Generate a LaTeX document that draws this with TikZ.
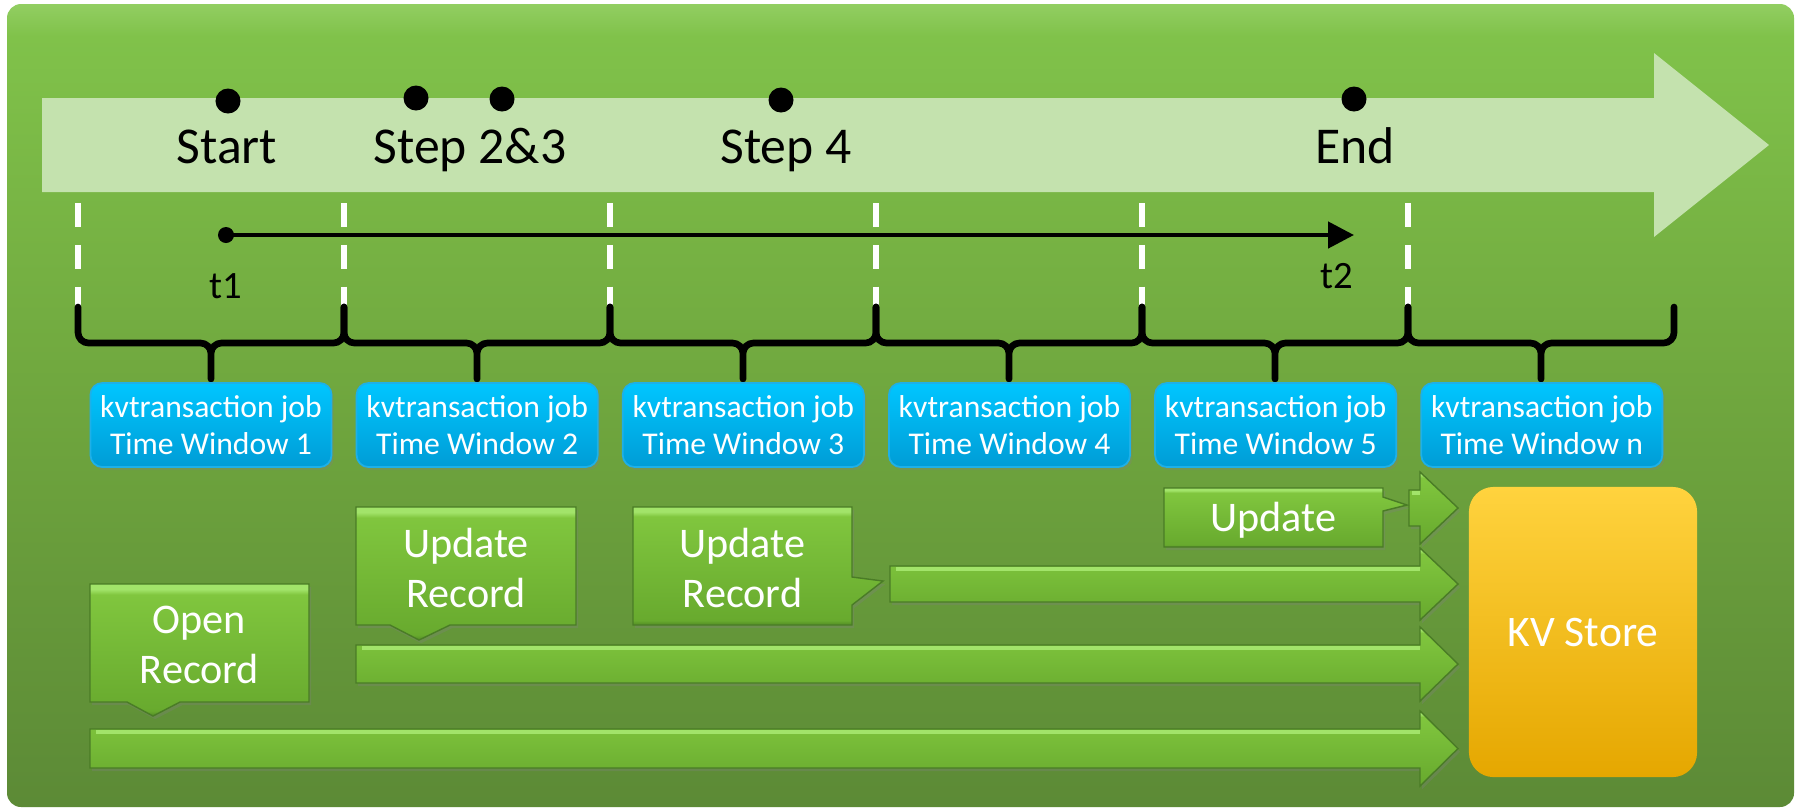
\documentclass[tikz,border=0pt]{standalone}
\usepackage{fontspec}
\setmainfont{Carlito}
\usepackage{tikz}
\usetikzlibrary{arrows.meta,positioning,shadows}

\definecolor{bgtopA}{RGB}{146,206,98}
\definecolor{bgtopB}{RGB}{128,194,74}
\definecolor{bgmid}{RGB}{111,166,62}
\definecolor{bgbot}{RGB}{92,138,54}
\definecolor{timeline}{RGB}{196,226,174}
\definecolor{winTop}{RGB}{0,198,255}
\definecolor{winBot}{RGB}{0,156,214}
\definecolor{winEdge}{RGB}{30,176,232}
\definecolor{grHi}{RGB}{162,228,106}
\definecolor{grTop}{RGB}{128,198,62}
\definecolor{grBot}{RGB}{104,170,46}
\definecolor{grLow}{RGB}{82,140,36}
\definecolor{grEdge}{RGB}{74,124,38}
\definecolor{kvTop}{RGB}{255,211,62}
\definecolor{kvBot}{RGB}{229,167,0}

\pgfdeclareverticalshading{backdrop}{100bp}{color(0bp)=(bgbot); color(25bp)=(bgbot); color(50bp)=(bgmid); color(73bp)=(bgtopB); color(75bp)=(bgtopA); color(100bp)=(bgtopA)}
\pgfdeclareverticalshading{bevel}{100bp}{color(0bp)=(grLow); color(25bp)=(grLow); color(27bp)=(grBot); color(71bp)=(grTop); color(73bp)=(grHi); color(75bp)=(grHi); color(100bp)=(grHi)}

\begin{document}
\begin{tikzpicture}[
    x=0.01cm, y=-0.01cm,
    font=\normalfont,
    >={Triangle[length=7.4pt,width=7.4pt]},
    dot/.style={
		circle,
		fill=black,
		inner sep=0pt,
		minimum size=0.25cm
	},
	stage/.style={
		anchor=base,
		inner sep=0pt,
		font=\fontsize{14.7}{17}\selectfont
	},
	tick/.style={
		anchor=base,
		inner sep=0pt,
		font=\fontsize{11}{13}\selectfont
	},
	sep/.style={
		white,
		line width=1.45pt,
		dash pattern=on 6.8pt off 5.1pt
	},
	brace/.style={
		black,
		line width=1.9pt,
		rounded corners=3pt,
		line cap=round
	},
	window/.style={
		rectangle,
		rounded corners=3.4pt,
		draw=winEdge,
		line width=0.5pt,
		top color=winTop,
		bottom color=winBot,
		text=white,
		align=center,
		inner sep=0pt,
		outer sep=0pt,
		minimum width=2.41cm,
		minimum height=0.84cm,
		font=\fontsize{9}{10.4}\selectfont,
		drop shadow={shadow xshift=0.6pt, shadow yshift=-0.9pt, opacity=0.3}
	},
	callout/.style={
		shade,
		shading=bevel,
		draw=grEdge,
		line width=0.4pt,
		drop shadow={shadow xshift=0.6pt, shadow yshift=-0.9pt, opacity=0.3}
	},
	flow/.style={
		shade,
		shading=bevel,
		draw=grEdge,
		line width=0.4pt,
		drop shadow={shadow xshift=0.6pt, shadow yshift=-0.9pt, opacity=0.3}
	},
	shine/.style={
		grHi,
		line width=1.3pt
	},
	calltext/.style={
		text=white,
		align=center,
		inner sep=0pt,
		font=\fontsize{12}{14.2}\selectfont
	},
	store/.style={
		rectangle,
		rounded corners=7pt,
		top color=kvTop,
		bottom color=kvBot,
		text=white,
		inner sep=0pt,
		outer sep=0pt,
		minimum width=2.28cm,
		minimum height=2.9cm,
		font=\fontsize{12.4}{14.6}\selectfont
	}
  ]

\useasboundingbox (0,0) rectangle (1801,811);
\fill[white] (0,0) rectangle (1801,811);
\path[shade, shading=backdrop, rounded corners=4pt] (7,4) rectangle (1794,807);

% // The time line
\fill[timeline] (42,98) -- (1654,98) -- (1654,53) -- (1769,145) -- (1654,237) -- (1654,192) -- (42,192) -- cycle;

 \node [dot] (start) at (228,101) {};
 \node [dot] (step2) at (416,98) {};
 \node [dot] (step3) at (502,99) {};
 \node [dot] (step4) at (781,100) {};
 \node [dot] (finish) at (1354,99) {};

 \node [stage] (startlbl) at (227,163) {Start};
 \node [stage] (steplbl) at (470,163) {Step 2\&3};
 \node [stage] (step4lbl) at (786,163) {Step 4};
 \node [stage] (finishlbl) at (1355,163) {End};

% // t1 -> t2
 \node [circle, fill=black, inner sep=0pt, minimum size=0.16cm] (t1dot) at (226,235) {};
 \coordinate (t2tip) at (1354,235);
 \draw [->, line width=1.3pt] (t1dot.center) -- (t2tip);
 \node [tick] (t1) at (226,298) {t1};
 \node [tick] (t2) at (1337,288) {t2};

% // window borders
 \draw [sep] (78,203) -- (78,307);
 \draw [sep] (344,203) -- (344,307);
 \draw [sep] (610,203) -- (610,307);
 \draw [sep] (876,203) -- (876,307);
 \draw [sep] (1142,203) -- (1142,307);
 \draw [sep] (1408,203) -- (1408,307);

 \draw [brace] (78,307) -- (78,343) -- (211,343) -- (211,379) (211,379) -- (211,343) -- (344,343) -- (344,307);
 \draw [brace] (344,307) -- (344,343) -- (477,343) -- (477,379) (477,379) -- (477,343) -- (610,343) -- (610,307);
 \draw [brace] (610,307) -- (610,343) -- (743,343) -- (743,379) (743,379) -- (743,343) -- (876,343) -- (876,307);
 \draw [brace] (876,307) -- (876,343) -- (1009,343) -- (1009,379) (1009,379) -- (1009,343) -- (1142,343) -- (1142,307);
 \draw [brace] (1142,307) -- (1142,343) -- (1275,343) -- (1275,379) (1275,379) -- (1275,343) -- (1408,343) -- (1408,307);
 \draw [brace] (1408,307) -- (1408,343) -- (1541,343) -- (1541,379) (1541,379) -- (1541,343) -- (1674,343) -- (1674,307);

% // the jobs
 \node [window] (tw1) at (211,425) {kvtransaction job\\Time Window 1};
 \node [window, right=2.5mm of tw1] (tw2) {kvtransaction job\\Time Window 2};
 \node [window, right=2.5mm of tw2] (tw3) {kvtransaction job\\Time Window 3};
 \node [window, right=2.5mm of tw3] (tw4) {kvtransaction job\\Time Window 4};
 \node [window, right=2.5mm of tw4] (tw5) {kvtransaction job\\Time Window 5};
 \node [window, right=2.5mm of tw5] (twn) {kvtransaction job\\Time Window n};

% // the store
 \node [store] (kv) at (1583,632) {KV Store};

% // flows into the store
 \path [flow] (90,729) -- (1420,729) -- (1420,711) -- (1458,748.5) -- (1420,786) -- (1420,768) -- (90,768) -- cycle;
 \draw [shine] (96,732) -- (1420,732);
 \path [flow] (356,645) -- (1420,645) -- (1420,627) -- (1458,664) -- (1420,701) -- (1420,683) -- (356,683) -- cycle;
 \draw [shine] (362,648) -- (1420,648);
 \path [flow] (890,566) -- (1420,566) -- (1420,548) -- (1458,584) -- (1420,620) -- (1420,602) -- (890,602) -- cycle;
 \draw [shine] (896,569) -- (1420,569);
 \path [flow] (1409,490) -- (1420,490) -- (1420,472) -- (1458,508) -- (1420,544) -- (1420,526) -- (1409,526) -- cycle;
 \draw [shine] (1412,493) -- (1420,493);

% // the callouts
 \path [callout] (90,584) -- (309,584) -- (309,702) -- (180,702) -- (153,716) -- (127,702) -- (90,702) -- cycle;
 \node [calltext] (open) at (199.5,645) {Open\\Record};

 \path [callout] (356,507) -- (576,507) -- (576,625) -- (450,625) -- (419,640) -- (390,625) -- (356,625) -- cycle;
 \node [calltext] (update1) at (466,568) {Update\\Record};

 \path [callout] (633,507) -- (852,507) -- (852,577) -- (883,581) -- (852,605) -- (852,625) -- (633,625) -- cycle;
 \node [calltext] (update2) at (742.5,568) {Update\\Record};

 \path [callout] (1164,488) -- (1383,488) -- (1383,497) -- (1407,505) -- (1383,511) -- (1383,547) -- (1164,547) -- cycle;
 \node [calltext] (update3) at (1273.5,520) {Update};

\end{tikzpicture}
\end{document}
